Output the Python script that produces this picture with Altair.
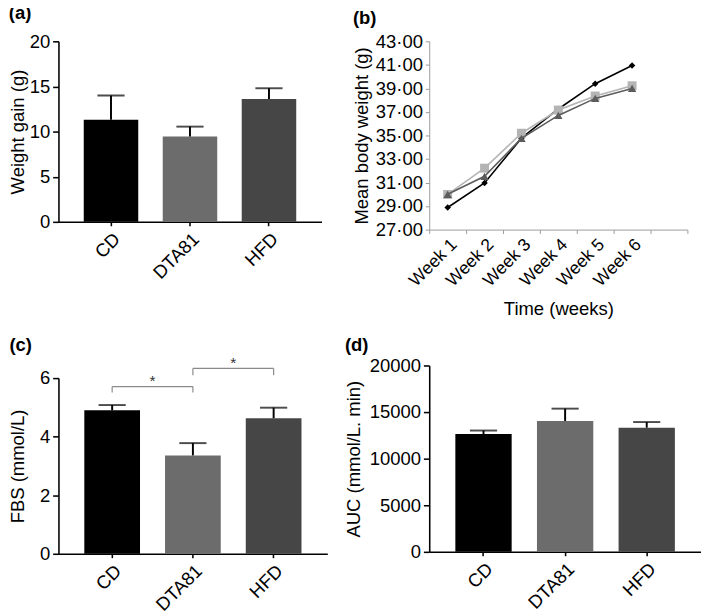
import altair as alt
import pandas as pd

FONT = "Liberation Sans"
FS = 19

# ---------------- data ----------------
groups = ["CD", "DTA81", "HFD"]
bar_colors = ["#000000", "#6c6c6c", "#464646"]

weight_gain = [11.3, 9.45, 13.6]
weight_gain_err = [2.7, 1.1, 1.2]

fbs = [4.9, 3.36, 4.63]
fbs_err = [0.18, 0.42, 0.36]

auc = [12650, 14050, 13330]
auc_err = [370, 1320, 600]

weeks = ["Week 1", "Week 2", "Week 3", "Week 4", "Week 5", "Week 6"]
series_names = ["HFD", "DTA81", "CD"]
series_colors = ["#000000", "#b4b4b4", "#5c5c5c"]
series_shapes = ["diamond", "square", "triangle-up"]
series_sizes = [45, 85, 75]
bw_hfd = [28.88, 30.96, 34.77, 37.25, 39.40, 40.95]
bw_dta = [29.99, 32.22, 35.19, 37.16, 38.35, 39.22]
bw_cd = [30.00, 31.53, 34.75, 36.70, 38.15, 39.00]
series_values = [bw_hfd, bw_dta, bw_cd]

sig_from = ["CD", "DTA81"]
sig_to = ["DTA81", "HFD"]
sig_top = [5.71, 6.33]
sig_bottom = [5.51, 6.10]
sig_star = [5.74, 6.36]

P_INNER = 0.31
P_OUTER = 0.32


def bar_panel(values, errs, label, ytitle, ydomain, yticks, width, height,
              title_offset, title_pad, sig=False):
    df = pd.DataFrame({"group": groups, "value": values, "err": errs})
    df["top"] = df["value"] + df["err"]
    xenc = alt.X("group:N", sort=groups,
                 scale=alt.Scale(paddingInner=P_INNER, paddingOuter=P_OUTER),
                 axis=alt.Axis(title=None, labelAngle=-45, labelFontSize=FS,
                               labelColor="black", domainColor="black",
                               domainWidth=1.6, tickColor="black",
                               tickWidth=1.6, tickSize=4, labelPadding=4))
    yscale = alt.Scale(domain=ydomain, nice=False, zero=True)
    yaxis = alt.Axis(values=yticks, format="d", grid=False, labelFontSize=FS,
                     labelColor="black", titleFontSize=FS,
                     titleFontWeight="normal", titleColor="black",
                     domainColor="black", domainWidth=1.6, tickColor="black",
                     tickWidth=1.6, tickSize=6, labelPadding=3,
                     titlePadding=title_pad)
    base = alt.Chart(df)
    bars = base.mark_bar().encode(
        x=xenc,
        y=alt.Y("value:Q", scale=yscale, axis=yaxis, title=ytitle),
        color=alt.Color("group:N", scale=alt.Scale(domain=groups, range=bar_colors),
                        legend=None),
    )
    err = base.mark_rule(color="black", strokeWidth=2).encode(
        x=alt.X("group:N", sort=groups), y="value:Q", y2="top:Q")
    cap = base.mark_tick(color="black", thickness=2, size=28).encode(
        x=alt.X("group:N", sort=groups), y="top:Q")
    layers = [bars, err, cap]
    if sig:
        seg_rows = []
        for a, b, t, bt in zip(sig_from, sig_to, sig_top, sig_bottom):
            seg_rows.append({"x": a, "x2": b, "y": t, "y2": t})
            seg_rows.append({"x": a, "x2": a, "y": bt, "y2": t})
            seg_rows.append({"x": b, "x2": b, "y": bt, "y2": t})
        segs = alt.Chart(pd.DataFrame(seg_rows)).mark_rule(
            color="#8a8a8a", strokeWidth=1.2).encode(
            x=alt.X("x:N", sort=groups), x2="x2:N", y="y:Q", y2="y2:Q")
        step = width / (3 - P_INNER + 2 * P_OUTER)
        stars = alt.Chart(pd.DataFrame({"x": sig_from, "y": sig_star})).mark_text(
            text="*", fontSize=16, color="#333333", baseline="alphabetic",
            dx=step / 2, font=FONT).encode(
            x=alt.X("x:N", sort=groups), y="y:Q")
        layers += [segs, stars]
    return alt.layer(*layers).properties(
        width=width, height=height,
        title=alt.TitleParams(label, anchor="start", frame="bounds",
                              fontSize=FS, fontWeight="bold", color="black",
                              offset=title_offset, font=FONT))


panel_a = bar_panel(weight_gain, weight_gain_err, "(a)", "Weight gain (g)",
                    [0, 20], [0, 5, 10, 15, 20], 271, 186, 10, 2)
panel_c = bar_panel(fbs, fbs_err, "(c)", "FBS (mmol/L)",
                    [0, 6], [0, 2, 4, 6], 277, 181, 0, 12, sig=True)
panel_d = bar_panel(auc, auc_err, "(d)", "AUC (mmol/L. min)",
                    [0, 20000], [0, 5000, 10000, 15000, 20000], 280, 192, 2, 6)

# ---------------- panel (b) ----------------
rows = []
for name, vals in zip(series_names, series_values):
    for w, v in zip(weeks, vals):
        rows.append({"week": w, "value": v, "series": name})
line_df = pd.DataFrame(rows)

xb = alt.X("week:N", scale=alt.Scale(domain=weeks + [" "], paddingInner=0,
                                      paddingOuter=0),
           axis=alt.Axis(title="Time (weeks)", titleFontSize=FS,
                         titleFontWeight="normal", titleColor="black",
                         titlePadding=11, labelAngle=-45, labelFontSize=18,
                         labelColor="black", tickBand="extent",
                         domainColor="#9a9a9a", tickColor="#9a9a9a",
                         tickSize=4, labelPadding=2))
yb = alt.Y("value:Q", scale=alt.Scale(domain=[27, 43], nice=False, zero=False),
           axis=alt.Axis(values=list(range(27, 44, 2)), grid=False,
                         labelExpr="replace(format(datum.value, '.2f'), '.', '·')",
                         labelFontSize=FS, labelColor="black",
                         title="Mean body weight (g)", titleFontSize=FS,
                         titleFontWeight="normal", titleColor="black",
                         domainColor="#9a9a9a", tickColor="#9a9a9a",
                         tickSize=4, labelPadding=3, titlePadding=4))

b_layers = []
for name, color, shape, size in zip(series_names, series_colors,
                                    series_shapes, series_sizes):
    sub = alt.Chart(line_df).transform_filter(alt.datum.series == name)
    b_layers.append(sub.mark_line(color=color, strokeWidth=1.6).encode(x=xb, y=yb))
    b_layers.append(sub.mark_point(color=color, filled=True, opacity=1,
                                   shape=shape, size=size).encode(x=xb, y=yb))

panel_b = alt.layer(*b_layers).properties(
    width=266, height=194,
    title=alt.TitleParams("(b)", anchor="start", frame="bounds", fontSize=FS,
                          fontWeight="bold", color="black", offset=5, font=FONT))

left = alt.vconcat(panel_a, panel_c, spacing=55)
right = alt.vconcat(panel_b, panel_d, spacing=18)
chart = alt.hconcat(left, right, spacing=18).properties(
    padding={"left": 0, "top": -13, "right": 0, "bottom": 0}
).configure(font=FONT).configure_view(stroke=None)

chart.save("out.html", embed_options={"renderer": "svg", "actions": False})
